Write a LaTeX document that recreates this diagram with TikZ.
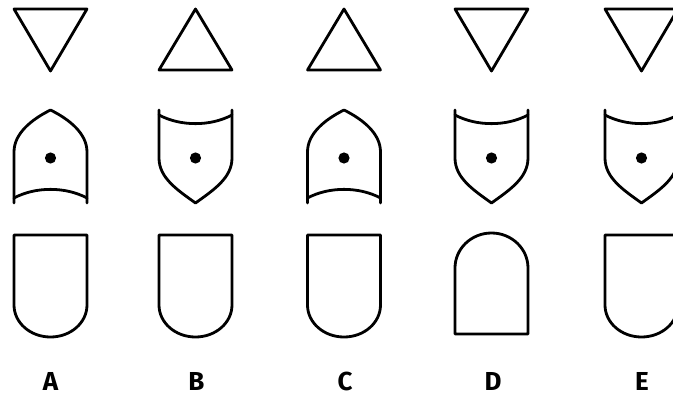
\documentclass[tikz,border=0pt]{standalone}
\usepackage{fontspec}
\setmainfont{Fira Sans}
\begin{document}
\begin{tikzpicture}[x=1pt,y=-1pt,
  shapeline/.style={draw=black,line width=2.8pt,line join=round,line cap=round},
  letter/.style={font=\fontsize{26}{26}\selectfont\bfseries,inner sep=0pt,anchor=base}]
\useasboundingbox (0,0) rectangle (673,399);
\fill[white] (0,0) rectangle (673,399);
\def\hw{36.5}
% ---- row 1: triangles
\newcommand{\downtri}[1]{\draw[shapeline] (#1-\hw,9) -- (#1+\hw,9) -- (#1,71) -- cycle;}
\newcommand{\uptri}[1]{\draw[shapeline] (#1,9) -- (#1+\hw,70) -- (#1-\hw,70) -- cycle;}
% ---- row 2: pointed arch with concave bottom
\newcommand{\pointarch}[1]{%
  \draw[shapeline] (#1-\hw,203) -- (#1-\hw,152)
     .. controls (#1-\hw,134) and (#1-20,120) .. (#1,110)
     .. controls (#1+20,120) and (#1+\hw,134) .. (#1+\hw,152) -- (#1+\hw,203);
  \draw[shapeline] (#1-\hw,198) .. controls (#1-15,186.5) and (#1+15,186.5) .. (#1+\hw,198);
  \fill (#1,158) circle (5.6);}
% ---- row 2: shield with concave top
\newcommand{\shield}[1]{%
  \draw[shapeline] (#1-\hw,110) -- (#1-\hw,158)
     .. controls (#1-\hw,178) and (#1-18,190) .. (#1,203)
     .. controls (#1+18,190) and (#1+\hw,178) .. (#1+\hw,158) -- (#1+\hw,110);
  \draw[shapeline] (#1-\hw,115) .. controls (#1-15,126.5) and (#1+15,126.5) .. (#1+\hw,115);
  \fill (#1,158) circle (5.6);}
% ---- row 3: U shape and arch
\newcommand{\ushape}[1]{%
  \draw[shapeline] (#1-\hw,305) -- (#1-\hw,235) -- (#1+\hw,235) -- (#1+\hw,305)
     .. controls (#1+\hw,322.7) and (#1+20.2,337) .. (#1,337)
     .. controls (#1-20.2,337) and (#1-\hw,322.7) .. (#1-\hw,305);}
\newcommand{\archshape}[1]{%
  \draw[shapeline] (#1-\hw,268)
     .. controls (#1-\hw,248.7) and (#1-20.2,233) .. (#1,233)
     .. controls (#1+20.2,233) and (#1+\hw,248.7) .. (#1+\hw,268)
     -- (#1+\hw,334) -- (#1-\hw,334) -- cycle;}
% column A
\downtri{50.5}\pointarch{50.5}\ushape{50.5}
\node[letter] (la) at (50.5,390) {A};
% column B
\uptri{195.5}\shield{195.5}\ushape{195.5}
\node[letter] (lb) at (196.5,390) {B};
% column C
\uptri{344}\pointarch{344}\ushape{344}
\node[letter] (lc) at (345,390) {C};
% column D
\downtri{491.5}\shield{491.5}\archshape{491.5}
\node[letter] (ld) at (493,390) {D};
% column E
\downtri{641.5}\shield{641.5}\ushape{641.5}
\node[letter] (le) at (642,390) {E};
\end{tikzpicture}
\end{document}
